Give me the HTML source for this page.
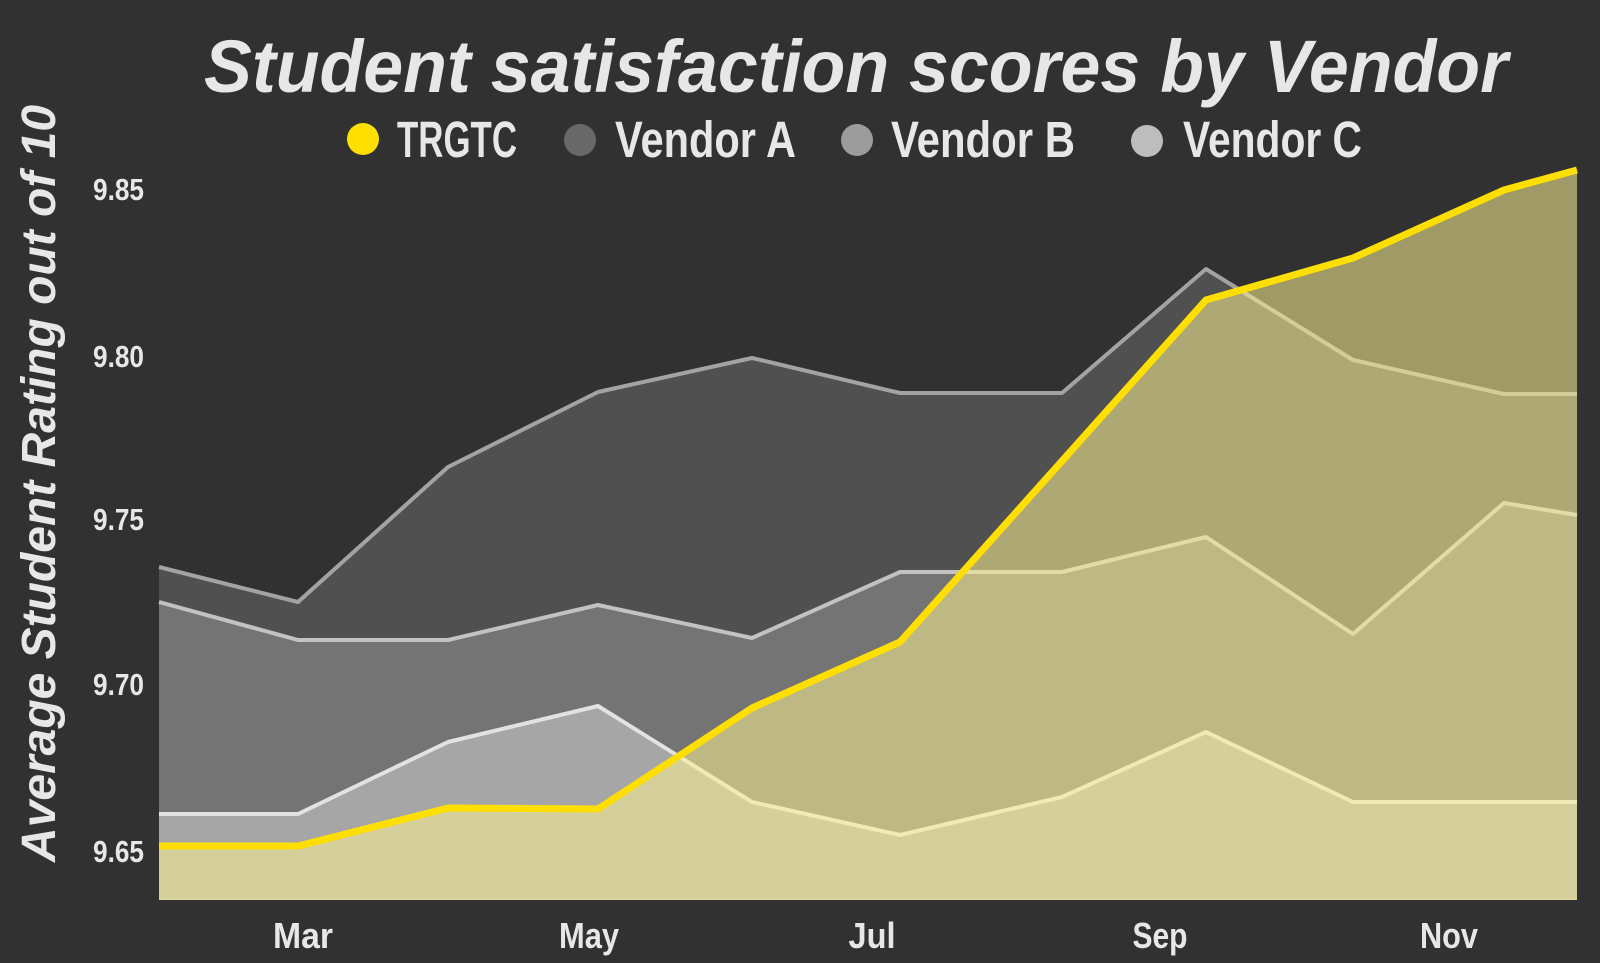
<!DOCTYPE html>
<html>
<head>
<meta charset="utf-8">
<style>
  html, body { margin:0; padding:0; background:#313131; }
  body { width:1600px; height:963px; overflow:hidden; }
  svg { display:block; }
  .t { font-family:"Liberation Sans", sans-serif; fill:#e7e7e9; }
  .n { font-family:"Liberation Sans Narrow", "Liberation Sans", sans-serif; font-weight:bold; fill:#e7e7e9; }
</style>
</head>
<body>
<svg width="1600" height="963" viewBox="0 0 1600 963" xmlns="http://www.w3.org/2000/svg">
  <rect x="0" y="0" width="1600" height="963" fill="#313131"/>

  <!-- Title -->
  <text class="t" x="204" y="92" font-size="74" font-weight="bold" font-style="italic" textLength="1304" lengthAdjust="spacingAndGlyphs">Student satisfaction scores by Vendor</text>

  <!-- Legend -->
  <circle cx="363" cy="139" r="16" fill="#ffdf00"/>
  <text class="n" x="397" y="157" font-size="51" textLength="120" lengthAdjust="spacingAndGlyphs">TRGTC</text>
  <circle cx="580" cy="140" r="16" fill="#686868"/>
  <text class="n" x="615" y="157" font-size="51" textLength="181" lengthAdjust="spacingAndGlyphs">Vendor A</text>
  <circle cx="857" cy="140" r="16" fill="#9c9c9c"/>
  <text class="n" x="891" y="157" font-size="51" textLength="184" lengthAdjust="spacingAndGlyphs">Vendor B</text>
  <circle cx="1147" cy="141" r="16" fill="#bdbdbd"/>
  <text class="n" x="1183" y="157" font-size="51" textLength="179" lengthAdjust="spacingAndGlyphs">Vendor C</text>

  <!-- Y axis title -->
  <text class="t" transform="translate(55,862) rotate(-90)" font-size="48" font-weight="bold" font-style="italic" textLength="757" lengthAdjust="spacingAndGlyphs">Average Student Rating out of 10</text>

  <!-- Y tick labels -->
  <g class="n" font-size="31" text-anchor="end">
    <text x="144" y="200" textLength="51" lengthAdjust="spacingAndGlyphs">9.85</text>
    <text x="144" y="367" textLength="51" lengthAdjust="spacingAndGlyphs">9.80</text>
    <text x="144" y="530" textLength="51" lengthAdjust="spacingAndGlyphs">9.75</text>
    <text x="144" y="695" textLength="51" lengthAdjust="spacingAndGlyphs">9.70</text>
    <text x="144" y="862" textLength="51" lengthAdjust="spacingAndGlyphs">9.65</text>
  </g>

  <!-- X tick labels -->
  <g class="n" font-size="36" text-anchor="middle">
    <text x="303" y="948" textLength="60" lengthAdjust="spacingAndGlyphs">Mar</text>
    <text x="589" y="948" textLength="60" lengthAdjust="spacingAndGlyphs">May</text>
    <text x="872" y="948" textLength="47" lengthAdjust="spacingAndGlyphs">Jul</text>
    <text x="1160" y="948" textLength="55" lengthAdjust="spacingAndGlyphs">Sep</text>
    <text x="1449" y="948" textLength="58" lengthAdjust="spacingAndGlyphs">Nov</text>
  </g>

  <!-- Vendor A area -->
  <polygon fill="#505050" points="159,900 159,567 298,602 448,467 598,392 752,358 900,393 1062,393 1206,269 1353,360 1504,394 1577,394 1577,900"/>
  <!-- Vendor B area -->
  <polygon fill="#747474" points="159,900 159,602 298,640 448,640 598,605 752,638 900,572 1062,572 1206,537 1353,634 1504,503 1577,515 1577,900"/>
  <!-- Vendor C area -->
  <polygon fill="#a6a6a6" points="159,900 159,814 298,814 448,742 598,706 752,802 900,835 1062,797 1206,732 1353,802 1504,802 1577,802 1577,900"/>

  <!-- Grey series lines -->
  <polyline fill="none" stroke="#a3a3a3" stroke-width="4" stroke-linejoin="round" points="159,567 298,602 448,467 598,392 752,358 900,393 1062,393 1206,269 1353,360 1504,394 1577,394"/>
  <polyline fill="none" stroke="#c2c2c2" stroke-width="4" stroke-linejoin="round" points="159,602 298,640 448,640 598,605 752,638 900,572 1062,572 1206,537 1353,634 1504,503 1577,515"/>
  <polyline fill="none" stroke="#e2e2e2" stroke-width="4" stroke-linejoin="round" points="159,814 298,814 448,742 598,706 752,802 900,835 1062,797 1206,732 1353,802 1504,802 1577,802"/>

  <!-- TRGTC area -->
  <polygon fill="rgb(251,240,145)" fill-opacity="0.55" points="159,900 159,846 298,846 448,808 598,809 752,708 900,642 1062,461 1206,300 1353,258 1504,190 1577,170 1577,900"/>

  <!-- baseline edge -->
  <line x1="159" y1="899" x2="1577" y2="899" stroke="#e6e0a8" stroke-opacity="0.5" stroke-width="2"/>

  <!-- TRGTC line -->
  <polyline fill="none" stroke="#ffdf00" stroke-width="7" stroke-linejoin="round" points="159,846 298,846 448,808 598,809 752,708 900,642 1062,461 1206,300 1353,258 1504,190 1577,170"/>
</svg>
</body>
</html>
